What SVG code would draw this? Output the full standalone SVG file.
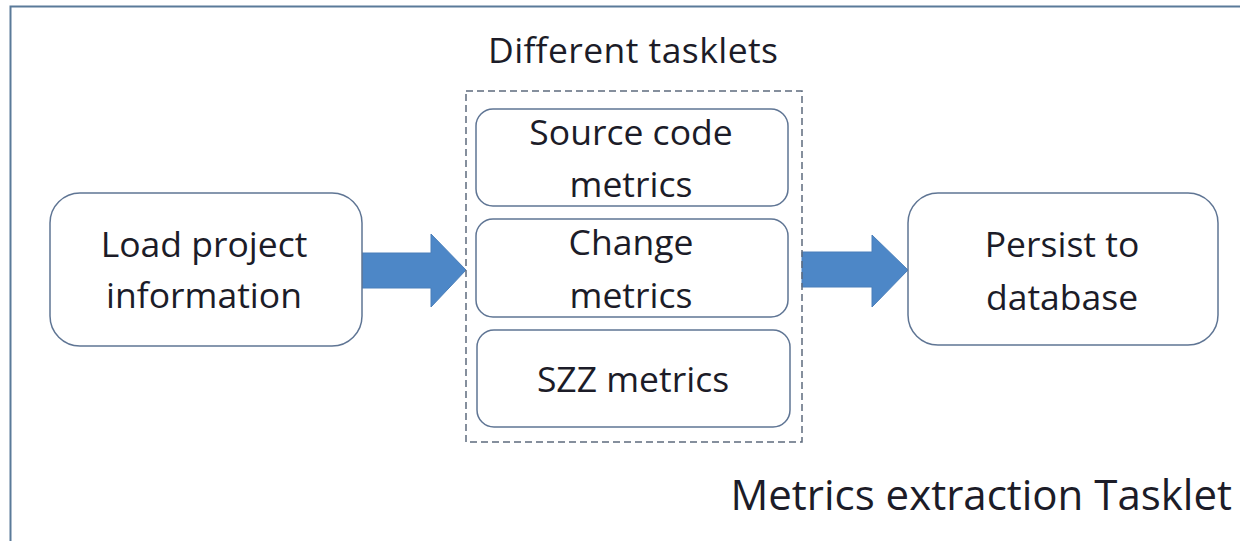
<svg xmlns="http://www.w3.org/2000/svg" width="1240" height="541" viewBox="0 0 1240 541">
<style>
.t{font-family:"Open Sans","Noto Sans",sans-serif;font-size:35.5px;fill:#1c1c28;text-anchor:middle}
.n{fill:#ffffff;stroke:#5f7594;stroke-width:1.5}
.arr{fill:#4d87c7;stroke:#4a7fba;stroke-width:1}
</style>
<rect x="0" y="0" width="1240" height="541" fill="#ffffff"/>
<path d="M10.5,541 V6.5 H1240" fill="none" stroke="#5a7a99" stroke-width="2"/>
<text class="t" x="633" y="63" textLength="290">Different tasklets</text>
<text class="t" x="1232" y="510" style="text-anchor:end;font-size:42px">Metrics extraction Tasklet</text>
<g id="connectors">
<path class="arr" d="M360,253 H431 V234 L466,270 L431,307 V288 H360 Z"/>
<path class="arr" d="M802,252 H872 V235 L908,270 L872,307 V287 H802 Z"/>
</g>
<g id="load">
<rect class="n" x="50" y="193" width="312" height="153" rx="30"/>
<text class="t" x="204" y="257">Load project</text>
<text class="t" x="204" y="308">information</text>
</g>
<g id="tasklets">
<rect x="466" y="91" width="336" height="351" fill="none" stroke="#5d6b7d" stroke-width="1.5" stroke-dasharray="7,4"/>
</g>
<g id="source">
<rect class="n" x="476" y="109" width="312" height="97" rx="17"/>
<text class="t" x="631" y="145">Source code</text>
<text class="t" x="631" y="197">metrics</text>
</g>
<g id="change">
<rect class="n" x="476" y="219" width="312" height="98" rx="17"/>
<text class="t" x="631" y="255">Change</text>
<text class="t" x="631" y="308">metrics</text>
</g>
<g id="szz">
<rect class="n" x="477" y="330" width="313" height="97" rx="17"/>
<text class="t" x="633" y="392">SZZ metrics</text>
</g>
<g id="persist">
<rect class="n" x="908" y="193" width="310" height="152" rx="30"/>
<text class="t" x="1062" y="257">Persist to</text>
<text class="t" x="1062" y="310">database</text>
</g>
</svg>
